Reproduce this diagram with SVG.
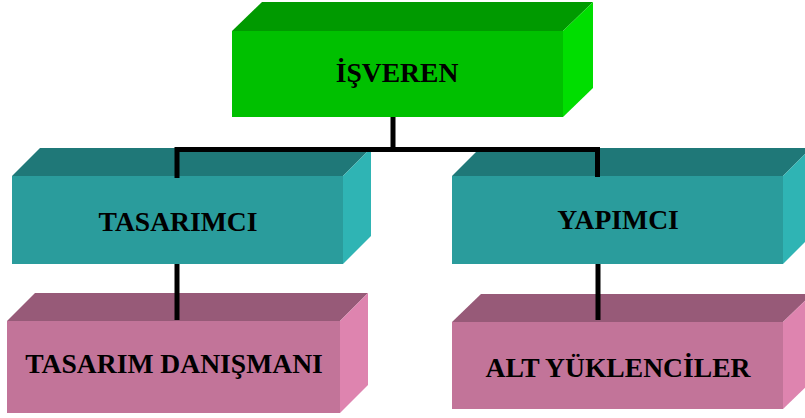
<svg xmlns="http://www.w3.org/2000/svg" width="805" height="418" viewBox="0 0 805 418">
  <style>
    .label { font-family: "Liberation Serif", "Times New Roman", serif; font-weight: bold; font-size: 27.6px; fill: #000; text-anchor: middle; }
    .green .front { fill: #00C000; }
    .green .top { fill: #009A00; }
    .green .side { fill: #00DE00; }
    .teal .front { fill: #2A9C9C; }
    .teal .top { fill: #1F7878; }
    .teal .side { fill: #2FB4B4; }
    .pink .front { fill: #C27499; }
    .pink .top { fill: #975A78; }
    .pink .side { fill: #DE84AF; }
    .wire { fill: none; stroke: #000; stroke-width: 5; stroke-linejoin: miter; }
  </style>
  <rect width="805" height="418" fill="#fff"/>

  <g id="isveren" class="green">
    <polygon class="top" points="232,31 262,2 593,2 563,31"/>
    <polygon class="side" points="563,31 593,2 593,88 563,117"/>
    <rect class="front" x="232" y="31" width="331" height="86"/>
    <text class="label" x="397" y="82">İŞVEREN</text>
  </g>

  <g id="tasarimci" class="teal">
    <polygon class="top" points="12,176 40,148 371,148 343,176"/>
    <polygon class="side" points="343,176 371,148 371,236 343,264"/>
    <rect class="front" x="12" y="176" width="331" height="88"/>
    <text class="label" x="178" y="231">TASARIMCI</text>
  </g>

  <g id="yapimci" class="teal">
    <polygon class="top" points="452,176 480,148 811,148 783,176"/>
    <polygon class="side" points="783,176 811,148 811,236 783,264"/>
    <rect class="front" x="452" y="176" width="331" height="88"/>
    <text class="label" x="618" y="229">YAPIMCI</text>
  </g>

  <g id="tasarim-danismani" class="pink">
    <polygon class="top" points="7,321 35,293 368,293 340,321"/>
    <polygon class="side" points="340,321 368,293 368,385 340,413"/>
    <rect class="front" x="7" y="321" width="333" height="92"/>
    <text class="label" x="174" y="373">TASARIM DANIŞMANI</text>
  </g>

  <g id="alt-yukleniciler" class="pink">
    <polygon class="top" points="452,322 481,294 812,294 783,322"/>
    <polygon class="side" points="783,322 812,294 812,381 783,409"/>
    <rect class="front" x="452" y="322" width="331" height="87"/>
    <text class="label" x="618" y="377">ALT YÜKLENCİLER</text>
  </g>

  <g id="connectors">
    <path class="wire" d="M393,117 V149.5"/>
    <path class="wire" d="M177,178 V149.5 H597.5 V177"/>
    <path class="wire" d="M177,264 V320"/>
    <path class="wire" d="M598,264 V320"/>
  </g>
</svg>
